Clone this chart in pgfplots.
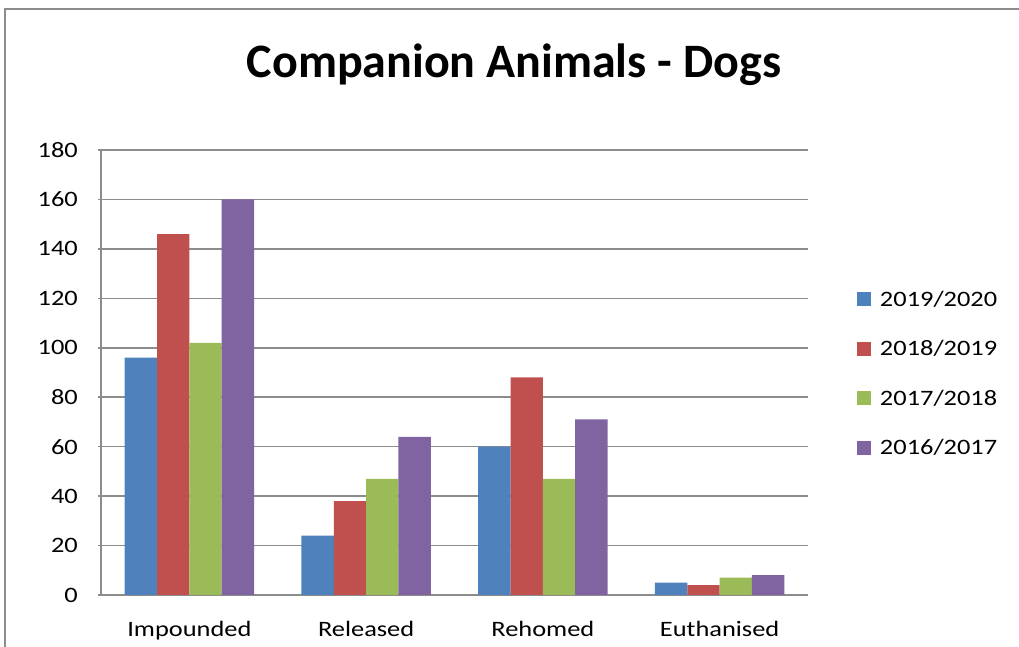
\documentclass[border=0pt]{standalone}
\usepackage{pgfplots}
\pgfplotsset{compat=1.18}
\usepackage{fontspec}
\setmainfont{Carlito}[FakeStretch=1.2]
\newfontfamily\titlefont{Carlito}
\definecolor{sBlue}{HTML}{4F81BD}
\definecolor{sRed}{HTML}{C0504D}
\definecolor{sGreen}{HTML}{9BBB59}
\definecolor{sPurple}{HTML}{8064A2}
\definecolor{gridgray}{HTML}{8C8C8C}
\begin{document}
\begin{tikzpicture}
\path[use as bounding box] (0,0) rectangle (1019bp,647bp);
\draw[gridgray, line width=2bp] (5bp,0) -- (5bp,638bp) -- (1019bp,638bp);
\node[anchor=base, inner sep=0pt, font=\titlefont\bfseries\fontsize{48bp}{56bp}\selectfont] at (514bp,569bp) {Companion Animals - Dogs};
\begin{axis}[
  at={(101bp,52bp)}, anchor=south west,
  scale only axis, width=707bp, height=445bp,
  ybar=0pt, bar width=0.183,
  xmin=-0.5, xmax=3.5, ymin=0, ymax=180,
  ytick={0,20,...,180},
  xtick={0,1,2,3},
  xticklabels={Impounded,Released,Rehomed,Euthanised},
  axis x line=bottom, axis y line=left,
  axis line style={gridgray, line width=1.5bp, -},
  ymajorgrids, major grid style={gridgray, line width=1.5bp},
  x tick style={draw=none},
  y tick style={gridgray, line width=1.5bp},
  major tick length=3bp,
  tick align=outside,
  font=\fontsize{22bp}{26bp}\selectfont,
  /pgf/number format/assume math mode=true,
  yticklabel style={anchor=east, inner sep=0pt, xshift=-20bp},
  xticklabel style={anchor=north, inner sep=0pt, yshift=-23bp},
  legend style={draw=none, fill=none, at={(1.069,0.681)}, anchor=north west,
    inner sep=0pt, row sep=35.6bp,
    nodes={inner sep=0pt, text height=14bp, text depth=0bp, anchor=west},
    font=\fontsize{22bp}{26bp}\selectfont},
  legend cell align=left,
  legend image code/.code={\fill[#1] (0bp,-7bp) rectangle (14bp,7bp);},
]
\addplot[fill=sBlue, draw=none] coordinates {(0,96) (1,24) (2,60) (3,5)};
\addplot[fill=sRed, draw=none] coordinates {(0,146) (1,38) (2,88) (3,4)};
\addplot[fill=sGreen, draw=none] coordinates {(0,102) (1,47) (2,47) (3,7)};
\addplot[fill=sPurple, draw=none] coordinates {(0,160) (1,64) (2,71) (3,8)};
\legend{\hspace{9bp}2019/2020,\hspace{9bp}2018/2019,\hspace{9bp}2017/2018,\hspace{9bp}2016/2017}
\end{axis}
\end{tikzpicture}
\end{document}
